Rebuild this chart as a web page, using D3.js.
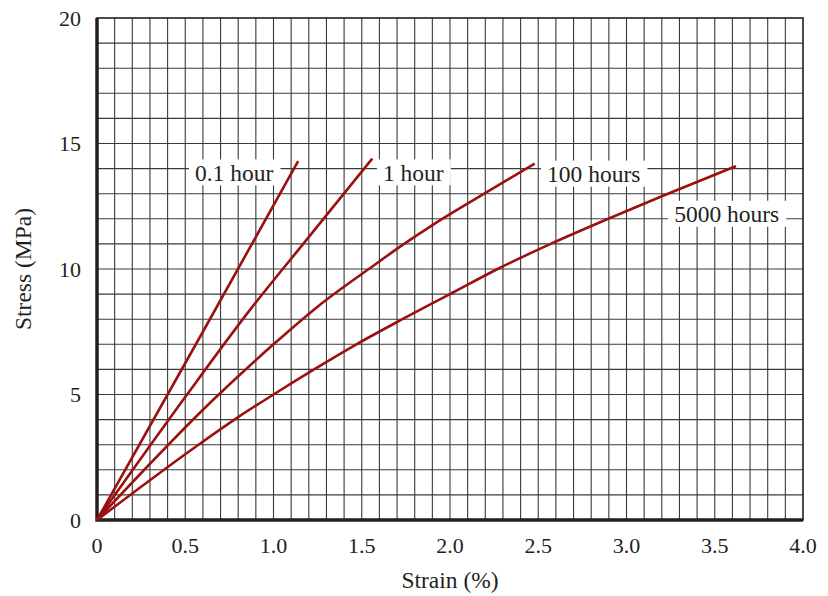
<!DOCTYPE html>
<html>
<head>
<meta charset="utf-8">
<script src="https://cdn.jsdelivr.net/npm/d3@7"></script>
<style>
  body { margin: 0; background: #fff; }
  svg text { font-family: "Liberation Serif", "Times New Roman", serif; fill: #231f20; }
</style>
</head>
<body>
<div id="chart"></div>
<script>
// creep curves: [strain %, stress MPa]
const curve01h = [[0, 0], [0.6, 7.5], [1.14, 14.3]];
const curve1h = [[0, 0], [0.5, 4.9], [0.87, 8.4], [1.18, 11.1], [1.56, 14.4]];
const curve100h = [[0, 0], [0.66, 4.8], [1.0, 7.0], [1.25, 8.5], [1.54, 10.0], [1.74, 11.0], [1.89, 11.7], [2.17, 12.9], [2.48, 14.2]];
const curve5000h = [[0, 0], [0.575, 3.0], [0.8, 4.1], [1.0, 5.0], [1.23, 6.0], [1.47, 7.0], [1.73, 8.0], [2.0, 9.0], [2.27, 10.0], [2.57, 11.0], [2.88, 11.95], [3.2, 12.9], [3.62, 14.1]];

const seriesNames = ['0.1 hour', '1 hour', '100 hours', '5000 hours'];
// label anchor in data coords (left edge of text, vertical middle)
const labelPos = [[0.555, 13.85], [1.62, 13.85], [2.55, 13.8], [3.27, 12.2]];

const xTicks = [0, 0.5, 1.0, 1.5, 2.0, 2.5, 3.0, 3.5, 4.0];
const xTickLabels = ['0', '0.5', '1.0', '1.5', '2.0', '2.5', '3.0', '3.5', '4.0'];
const yTicks = [0, 5, 10, 15, 20];

const width = 828, height = 596;
const margin = { top: 18, right: 25, bottom: 76, left: 97 };

const svg = d3.select('#chart').append('svg')
  .attr('width', width)
  .attr('height', height);

const x = d3.scaleLinear().domain([0, 4]).range([margin.left, width - margin.right]);
const y = d3.scaleLinear().domain([0, 20]).range([height - margin.bottom, margin.top]);

// grid
const grid = svg.append('g').attr('stroke', '#3a3a3a').attr('stroke-width', 1.1);
grid.selectAll('line.v')
  .data(d3.range(1, 40).map(i => i / 10))
  .join('line')
  .attr('x1', d => x(d)).attr('x2', d => x(d))
  .attr('y1', y(0)).attr('y2', y(20));
grid.selectAll('line.h')
  .data(d3.range(1, 20))
  .join('line')
  .attr('x1', x(0)).attr('x2', x(4))
  .attr('y1', d => y(d)).attr('y2', d => y(d));

// frame
svg.append('rect')
  .attr('x', x(0)).attr('y', y(20))
  .attr('width', x(4) - x(0)).attr('height', y(0) - y(20))
  .attr('fill', 'none').attr('stroke', '#231f20').attr('stroke-width', 1.6);
svg.append('path')
  .attr('d', `M${x(0)},${y(20)}V${y(0)}H${x(4)}`)
  .attr('fill', 'none').attr('stroke', '#231f20').attr('stroke-width', 3.5);

// tick labels
svg.append('g').selectAll('text')
  .data(xTicks)
  .join('text')
  .attr('x', d => x(d))
  .attr('y', y(0) + 33)
  .attr('text-anchor', 'middle')
  .attr('font-size', 22)
  .text((d, i) => xTickLabels[i]);

svg.append('g').selectAll('text')
  .data(yTicks)
  .join('text')
  .attr('x', x(0) - 16)
  .attr('y', d => y(d))
  .attr('dy', '0.35em')
  .attr('text-anchor', 'end')
  .attr('font-size', 22)
  .text(d => d);

svg.append('text')
  .attr('x', x(2))
  .attr('y', height - 8)
  .attr('text-anchor', 'middle')
  .attr('font-size', 23.5)
  .text('Strain (%)');

svg.append('text')
  .attr('transform', `translate(31,${y(10)}) rotate(-90)`)
  .attr('text-anchor', 'middle')
  .attr('font-size', 23.5)
  .text('Stress (MPa)');

// labels with white boxes
const lab = svg.append('g');
seriesNames.forEach((name, i) => {
  const g = lab.append('g');
  const t = g.append('text')
    .attr('x', x(labelPos[i][0]))
    .attr('y', y(labelPos[i][1]))
    .attr('dy', '0.35em')
    .attr('font-size', 23.5)
    .text(name);
  const b = t.node().getBBox();
  g.insert('rect', 'text')
    .attr('x', b.x - 6).attr('y', y(labelPos[i][1]) - 13)
    .attr('width', b.width + 13).attr('height', 26)
    .attr('fill', '#fff');
});

// curves
const line = d3.line()
  .x(d => x(d[0]))
  .y(d => y(d[1]))
  .curve(d3.curveMonotoneX);

svg.append('g')
  .selectAll('path')
  .data([curve01h, curve1h, curve100h, curve5000h])
  .join('path')
  .attr('d', line)
  .attr('fill', 'none')
  .attr('stroke', '#9b1010')
  .attr('stroke-width', 2.6);
</script>
</body>
</html>
